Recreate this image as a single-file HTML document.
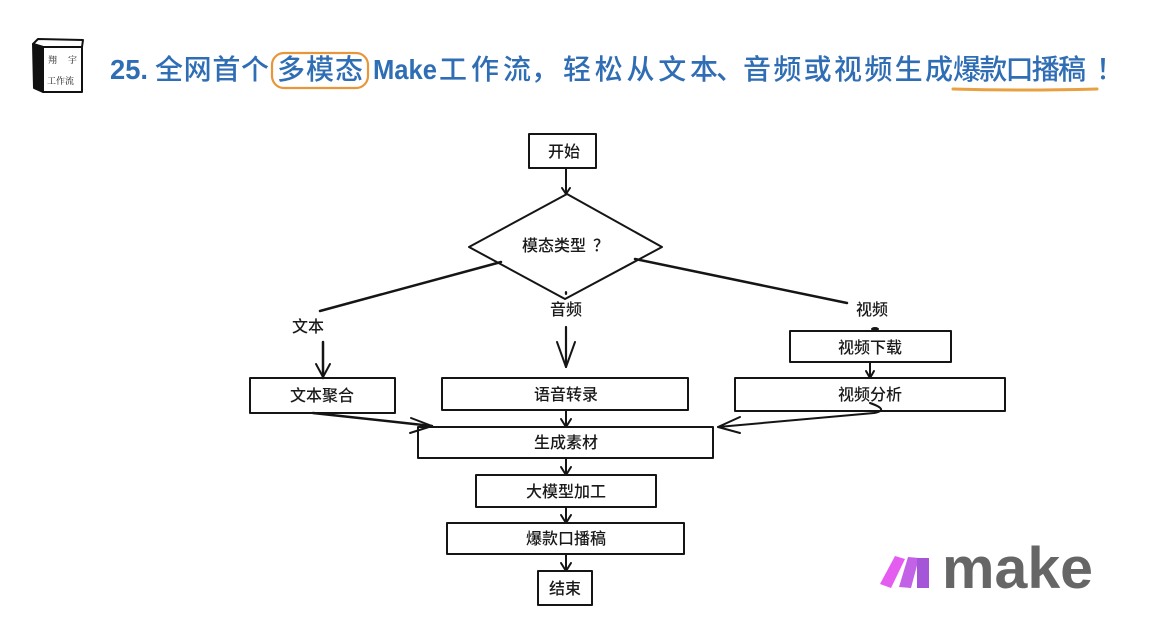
<!DOCTYPE html>
<html>
<head>
<meta charset="utf-8">
<style>
  html,body{margin:0;padding:0;background:#fff;}
  body{width:1160px;height:644px;overflow:hidden;position:relative;}
  svg{position:absolute;left:0;top:0;}
  .t{font-family:"Liberation Sans","Noto Sans CJK SC",sans-serif;font-size:28px;fill:#2f6db4;font-weight:bold;}
  .c{font-family:"Noto Sans CJK SC","Liberation Sans",sans-serif;font-size:28px;fill:#2f6db4;font-weight:500;}
  .n{font-family:"Noto Sans CJK SC","Liberation Sans",sans-serif;font-size:16px;fill:#1a1a1a;font-weight:500;}
</style>
</head>
<body>
<svg width="1160" height="644" viewBox="0 0 1160 644" xmlns="http://www.w3.org/2000/svg">
  <!-- cube icon -->
  <g stroke="#111" stroke-width="2" stroke-linejoin="round">
    <polygon points="33,44 38,39 83,40 82,47 43,47" fill="#fff"/>
    <polygon points="33,44 43,47 43,92 34,88" fill="#111"/>
    <rect x="43" y="47" width="39" height="45" fill="#fff"/>
  </g>
  <text x="48" y="63" font-family="'Noto Serif CJK SC','Liberation Serif',serif" font-size="9" fill="#111">翔</text>
  <text x="68" y="63" font-family="'Noto Serif CJK SC','Liberation Serif',serif" font-size="9" fill="#111">宇</text>
  <text x="47" y="84" font-family="'Noto Serif CJK SC','Liberation Serif',serif" font-size="9" fill="#111">工作流</text>

  <!-- title -->
  <text class="t" x="110" y="79" textLength="38" lengthAdjust="spacingAndGlyphs">25.</text>
  <text class="c" x="155" y="79" textLength="114" lengthAdjust="spacing">全网首个</text>
  <rect x="272" y="53" width="96" height="35" rx="12" ry="12" fill="none" stroke="#e8963a" stroke-width="2.2"/>
  <text class="c" x="277" y="79" textLength="86" lengthAdjust="spacing">多模态</text>
  <text class="t" x="373" y="79" textLength="64" lengthAdjust="spacingAndGlyphs">Make</text>
  <text class="c" x="439" y="79" textLength="92" lengthAdjust="spacing">工作流</text>
  <text class="c" x="531" y="79">，</text>
  <text class="c" x="563" y="79" textLength="155" lengthAdjust="spacing">轻松从文本</text>
  <text class="c" x="716" y="79">、</text>
  <text class="c" x="743" y="79" textLength="210" lengthAdjust="spacing">音频或视频生成</text>
  <text class="c" x="953" y="79" textLength="133" lengthAdjust="spacing">爆款口播稿</text>
  <text class="c" x="1096" y="79">！</text>
  <path d="M953 89 Q1020 91 1097 89" fill="none" stroke="#e8a040" stroke-width="3" stroke-linecap="round"/>

  <!-- flowchart -->
  <g fill="none" stroke="#151515" stroke-width="2" stroke-linecap="round" stroke-linejoin="round">
    <rect x="529" y="134" width="67" height="34"/>
    <line x1="566" y1="168" x2="566" y2="194"/>
    <path d="M562 188 L566 194 L570 188"/>
    <polygon points="567,194 662,247 565,299 469,247"/>
    <line x1="501" y1="262" x2="320" y2="311" stroke-width="2.5"/>
    <line x1="635" y1="259" x2="847" y2="303" stroke-width="2.5"/>
    <!-- 文本 arrow -->
    <line x1="323" y1="342" x2="323" y2="378" stroke-width="2.5"/>
    <path d="M316 364 L323 377 L330 364"/>
    <rect x="250" y="378" width="145" height="35"/>
    <!-- 音频 arrow -->
    <line x1="566" y1="327" x2="566" y2="367" stroke-width="2.2"/>
    <path d="M557 342 L566 367 L575 342"/>
    <rect x="442" y="378" width="246" height="32"/>
    <!-- 视频 -->
    <rect x="790" y="331" width="161" height="31"/>
    <line x1="870" y1="362" x2="870" y2="378"/>
    <path d="M866 371 L870 378 L874 371"/>
    <rect x="735" y="378" width="270" height="33"/>
    <path d="M870 403 Q890 410 874 413 L718 427" />
    <path d="M740 417 L718 427 L740 433"/>
    <!-- 文本聚合 -> 生成素材 -->
    <path d="M313 413 L432 426" stroke-width="2.5"/>
    <path d="M411 418 L432 426 L410 433"/>
    <line x1="566" y1="410" x2="566" y2="427"/>
    <path d="M561 419 L566 427 L571 419"/>
    <rect x="418" y="427" width="295" height="31"/>
    <line x1="566" y1="458" x2="566" y2="475"/>
    <path d="M561 467 L566 475 L571 467"/>
    <rect x="476" y="475" width="180" height="32"/>
    <line x1="566" y1="507" x2="566" y2="523"/>
    <path d="M561 515 L566 523 L571 515"/>
    <rect x="447" y="523" width="237" height="31"/>
    <line x1="566" y1="554" x2="566" y2="571"/>
    <path d="M561 563 L566 571 L571 563"/>
    <rect x="538" y="571" width="54" height="34"/>
  </g>
  <ellipse cx="875" cy="329" rx="4" ry="2" fill="#151515"/>
  <ellipse cx="566" cy="293" rx="1.2" ry="2" fill="#151515"/>

  <!-- node labels -->
  <g class="n" text-anchor="middle">
    <text x="564" y="157">开始</text>
    <text x="554" y="251">模态类型</text>
    <text x="308" y="332">文本</text>
    <text x="566" y="315">音频</text>
    <text x="872" y="315">视频</text>
    <text x="322" y="401">文本聚合</text>
    <text x="566" y="400">语音转录</text>
    <text x="870" y="353">视频下载</text>
    <text x="870" y="400">视频分析</text>
    <text x="566" y="448">生成素材</text>
    <text x="566" y="497">大模型加工</text>
    <text x="566" y="544">爆款口播稿</text>
    <text x="565" y="594">结束</text>
  </g>
  <text class="n" x="593" y="251">？</text>

  <!-- make logo -->
  <polygon points="880,584 891,588 905,559 895,556" fill="#e45cf0"/>
  <polygon points="899,587 911,588 919,558 908,557" fill="#c262e6"/>
  <polygon points="917,558 929,558 929,588 917,588" fill="#a556d8"/>
  <text x="942" y="588" font-family="'Liberation Sans',sans-serif" font-weight="bold" font-size="58" fill="#666" textLength="151" lengthAdjust="spacingAndGlyphs">make</text>
</svg>
</body>
</html>
